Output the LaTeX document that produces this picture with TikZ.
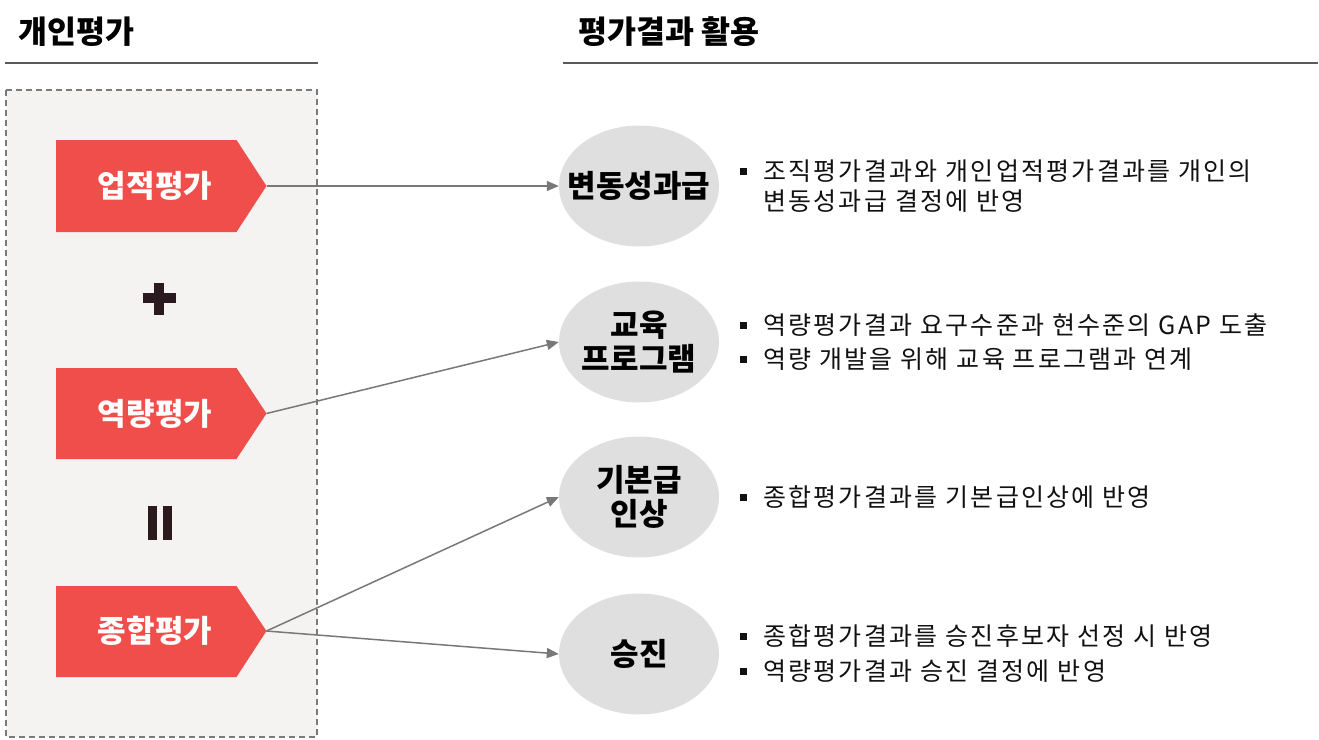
\documentclass[tikz,border=0pt]{standalone}
\usepackage{fontspec}
\setmainfont{Noto Sans CJK KR}
\usetikzlibrary{shapes.geometric,arrows.meta}
\definecolor{chevred}{HTML}{EF4E4A}
\definecolor{boxfill}{HTML}{F4F3F1}
\definecolor{boxline}{HTML}{7A7A7A}
\definecolor{ellfill}{HTML}{DFDFDF}
\definecolor{arrgray}{HTML}{787878}
\definecolor{hlinec}{HTML}{5A5A5A}
\definecolor{markc}{HTML}{2A1A1F}
\definecolor{txtc}{HTML}{111111}
\newcommand{\bulsq}{\makebox[23pt][l]{\rule[5.5pt]{7pt}{7pt}}}
\newcommand{\ellline}[1]{\makebox[100pt][c]{#1}}
\tikzset{
  head/.style={anchor=west, inner sep=0, font=\bfseries\fontsize{31.5}{34}\selectfont, text=black},
  hline/.style={draw=hlinec, line width=1.8pt},
  chevfill/.style={fill=chevred},
  chevtxt/.style={inner sep=0pt, text=white, font=\bfseries\fontsize{31}{34}\selectfont},
  ell/.style={shape=ellipse, fill=ellfill, minimum width=160pt, minimum height=121pt,
    inner sep=0pt, align=center, font=\bfseries\fontsize{31}{34}\selectfont, text=black},
  conn/.style={draw=arrgray, line width=1.5pt, -{Triangle[length=12pt,width=10pt]}},
  bodytxt/.style={anchor=west, inner sep=0pt, align=left, text=txtc,
    font=\fontsize{25}{30}\selectfont\addfontfeature{LetterSpace=9}},
  opmark/.style={fill=markc}
}
\begin{document}
\begin{tikzpicture}[x=1pt,y=-1pt]
\useasboundingbox (0,0) rectangle (1319,739);
% headers
\node[head] (h1) at (18,32) {개인평가};
\node[head] (h2) at (578,32) {평가결과 활용};
\draw[hline] (5,63) -- (318,63);
\draw[hline] (563,63) -- (1318,63);
% dashed box
\draw[fill=boxfill, draw=boxline, line width=1.5pt, dash pattern=on 6pt off 4pt] (6,90) rectangle (317,737);
% chevrons
\fill[chevfill] (56,140) -- (236.5,140) -- (266.5,186) -- (236.5,232) -- (56,232) -- cycle;
\fill[chevfill] (56,368) -- (236.5,368) -- (266.5,413.5) -- (236.5,459) -- (56,459) -- cycle;
\fill[chevfill] (56,586) -- (236.5,586) -- (266.5,631) -- (236.5,677) -- (56,677) -- cycle;
\coordinate (aT) at (266.5,186);
\coordinate (bT) at (266.5,413.5);
\coordinate (cT) at (266.5,631);
\node[chevtxt] (a) at (155,186) {업적평가};
\node[chevtxt] (b) at (155,413.5) {역량평가};
\node[chevtxt] (c) at (155,631) {종합평가};
% plus
\fill[opmark] (142.5,293) rectangle (176,303);
\fill[opmark] (154,283) rectangle (164,315);
% equals (vertical)
\fill[opmark] (148.3,506) rectangle (156.7,539.5);
\fill[opmark] (163.3,506) rectangle (171.7,539.5);
% ellipses
\node[ell] (e1) at (639,186) {\ellline{변동성과급}};
\node[ell] (e2) at (639,342) {\ellline{교육}\\\ellline{프로그램}};
\node[ell] (e3) at (639,497) {\ellline{기본급}\\\ellline{인상}};
\node[ell] (e4) at (639,654) {\ellline{승진}};
% connectors
\draw[conn] (aT) -- (e1.west);
\draw[conn] (bT) -- (e2.west);
\draw[conn] (cT) -- (e3.west);
\draw[conn] (cT) -- (e4.west);
% texts
\node[bodytxt] (t1) at (740,186) {\bulsq 조직평가결과와 개인업적평가결과를 개인의\\\hspace*{23pt}변동성과급 결정에 반영};
\node[bodytxt] (t2) at (740,325) {\bulsq 역량평가결과 요구수준과 현수준의 GAP 도출};
\node[bodytxt] (t3) at (740,359) {\bulsq 역량 개발을 위해 교육 프로그램과 연계};
\node[bodytxt] (t4) at (740,497) {\bulsq 종합평가결과를 기본급인상에 반영};
\node[bodytxt] (t5) at (740,636) {\bulsq 종합평가결과를 승진후보자 선정 시 반영};
\node[bodytxt] (t6) at (740,671) {\bulsq 역량평가결과 승진 결정에 반영};
\end{tikzpicture}
\end{document}
